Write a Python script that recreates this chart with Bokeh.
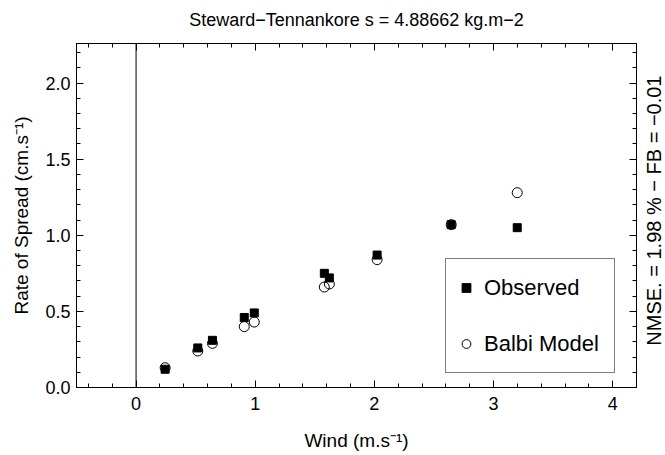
import math
from bokeh.plotting import figure
from bokeh.layouts import row
from bokeh.core.properties import value
from bokeh.models import (Range1d, FixedTicker, LinearAxis, Span, Legend,
                          LegendItem, PrintfTickFormatter)
from bokeh.embed import file_html
from bokeh.resources import INLINE

# ---- data ----
wind = [0.244, 0.518, 0.641, 0.908, 0.992, 1.580, 1.622, 2.023, 2.645, 3.199]
observed = [0.12, 0.26, 0.31, 0.46, 0.49, 0.75, 0.72, 0.87, 1.07, 1.05]
balbi_model = [0.13, 0.24, 0.29, 0.40, 0.43, 0.66, 0.68, 0.84, 1.07, 1.28]

x_major_ticks = [0, 1, 2, 3, 4]
x_minor_ticks = [-0.4, -0.2, 0.2, 0.4, 0.6, 0.8, 1.2, 1.4, 1.6, 1.8, 2.2, 2.4, 2.6,
                 2.8, 3.2, 3.4, 3.6, 3.8, 4.2]
y_major_ticks = [0.0, 0.5, 1.0, 1.5, 2.0]
y_minor_ticks = [0.1, 0.2, 0.3, 0.4, 0.6, 0.7, 0.8, 0.9, 1.1, 1.2, 1.3, 1.4, 1.6, 1.7,
                 1.8, 1.9, 2.1, 2.2]

title_text = "Steward\u2212Tennankore s = 4.88662 kg.m\u22122"
x_label = "Wind (m.s\u207b\u00b9)"
y_label = "Rate of Spread (cm.s\u207b\u00b9)"
side_text = "NMSE. = 1.98 % \u2212 FB = \u22120.01"
series_names = ["Observed", "Balbi Model"]

FONT = "Liberation Sans"

p = figure(width=637, height=455, output_backend="svg", toolbar_location=None,
           x_range=Range1d(-0.5, 4.2), y_range=Range1d(0, 2.26),
           min_border_left=76, min_border_right=1, min_border_top=43,
           min_border_bottom=68)
p.grid.visible = False
p.outline_line_color = "black"
p.outline_line_width = 1
p.background_fill_color = "white"
p.border_fill_color = "white"


def style_axis(ax, ticks, minor, show_labels):
    ax.ticker = FixedTicker(ticks=ticks, minor_ticks=minor)
    ax.axis_line_color = "black"
    ax.major_tick_line_color = "black"
    ax.minor_tick_line_color = "black"
    ax.major_tick_in = 7
    ax.major_tick_out = 0
    ax.minor_tick_in = 4
    ax.minor_tick_out = 0
    ax.major_label_text_font = FONT
    ax.axis_label_text_font = FONT
    ax.axis_label_text_font_style = "normal"
    ax.axis_label_text_color = "black"
    ax.major_label_text_color = "black"
    if show_labels:
        ax.major_label_text_font_size = "18px"
        ax.axis_label_text_font_size = "19px"
    else:
        ax.major_label_text_font_size = "0px"
        ax.major_label_standoff = 0


xa = p.xaxis[0]
style_axis(xa, x_major_ticks, x_minor_ticks, True)
xa.axis_label = x_label
xa.major_label_standoff = 9
xa.axis_label_standoff = 17

ya = p.yaxis[0]
style_axis(ya, y_major_ticks, y_minor_ticks, True)
ya.axis_label = y_label
ya.formatter = PrintfTickFormatter(format="%.1f")
ya.major_label_standoff = 6
ya.axis_label_standoff = 10
ya.major_label_orientation = "horizontal"

# top axis: mirrored ticks, carries the chart title
top_axis = LinearAxis()
style_axis(top_axis, x_major_ticks, x_minor_ticks, False)
top_axis.axis_label = title_text
top_axis.axis_label_text_font_size = "18px"
top_axis.axis_label_standoff = 14
p.add_layout(top_axis, "above")

# right axis: mirrored ticks only
right_axis = LinearAxis()
style_axis(right_axis, y_major_ticks, y_minor_ticks, False)
p.add_layout(right_axis, "right")

p.add_layout(Span(location=0, dimension="height", line_color="black", line_width=1))

r_model = p.scatter(wind, balbi_model, marker="circle", size=10, fill_color=None,
                    line_color="black", line_width=1)
r_obs = p.scatter(wind, observed, marker="square", size=8, fill_color="black",
                  line_color="black")

legend = Legend(items=[LegendItem(label=series_names[0], renderers=[r_obs]),
                       LegendItem(label=series_names[1], renderers=[r_model])],
                location=(369, 14))
legend.label_text_font = FONT
legend.label_text_font_size = "22px"
legend.label_text_color = "black"
legend.padding = 9
legend.spacing = 17
legend.glyph_width = 22
legend.glyph_height = 39
legend.label_height = 39
legend.label_width = 121
legend.label_standoff = 7
legend.margin = 0
legend.border_line_color = "black"
legend.border_line_width = 1.5
legend.background_fill_color = "white"
legend.background_fill_alpha = 1
p.add_layout(legend)

# narrow side panel holding the vertical score text (reads bottom to top)
side = figure(width=28, height=455, output_backend="svg", toolbar_location=None,
              x_range=Range1d(0, 28), y_range=Range1d(0, 455),
              x_axis_type=None, y_axis_type=None, min_border=0)
side.grid.visible = False
side.outline_line_color = None
side.background_fill_color = "white"
side.border_fill_color = "white"
side.text(x=[16], y=[234], text=[side_text], angle=90, angle_units="deg",
          text_align="center", text_baseline="middle", text_font=value(FONT),
          text_font_size="20px", text_color="black")

layout = row(p, side, spacing=0)
open("out.html", "w").write(file_html(layout, INLINE))
